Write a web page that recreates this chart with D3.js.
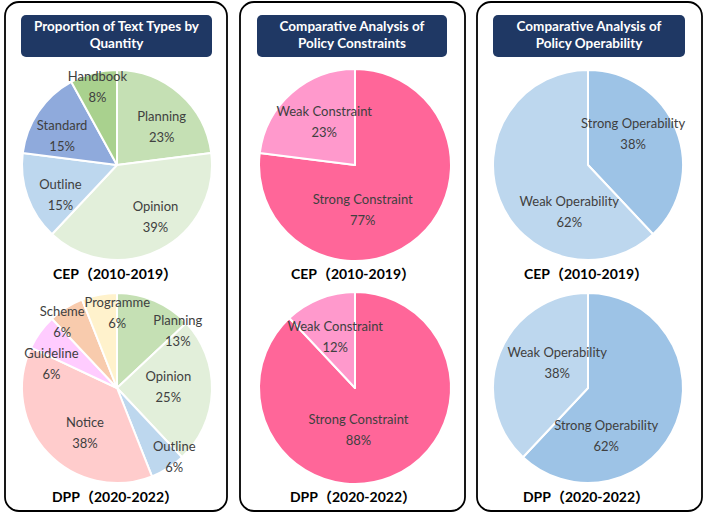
<!DOCTYPE html>
<html>
<head>
<meta charset="utf-8">
<script src="https://cdn.jsdelivr.net/npm/d3@7"></script>
<style>
  html, body { margin: 0; padding: 0; background: #fff; }
  svg { display: block; }
</style>
</head>
<body>
<svg id="chart" width="705" height="514"></svg>
<script>
// ---------------- DATA ----------------
const panelTitles = [
  ["Proportion of Text Types by", "Quantity"],
  ["Comparative Analysis of", "Policy Constraints"],
  ["Comparative Analysis of", "Policy Operability"]
];
const periodLabels = ["CEP（2010-2019）", "DPP（2020-2022）"];

const cepTypeCategories = ["Planning", "Opinion", "Outline", "Standard", "Handbook"];
const cepTypeValues = [23, 39, 15, 15, 8];

const dppTypeCategories = ["Planning", "Opinion", "Outline", "Notice", "Guideline", "Scheme", "Programme"];
const dppTypeValues = [13, 25, 6, 38, 6, 6, 6];

const cepConstraintCategories = ["Strong Constraint", "Weak Constraint"];
const cepConstraintValues = [77, 23];
const dppConstraintCategories = ["Strong Constraint", "Weak Constraint"];
const dppConstraintValues = [88, 12];

const cepOperabilityCategories = ["Strong Operability", "Weak Operability"];
const cepOperabilityValues = [38, 62];
const dppOperabilityCategories = ["Strong Operability", "Weak Operability"];
const dppOperabilityValues = [62, 38];

// ---------------- STYLE / LAYOUT ----------------
const colorScale = d3.scaleOrdinal()
  .domain(["Planning", "Opinion", "Outline", "Standard", "Handbook", "Notice", "Guideline", "Scheme", "Programme",
           "Strong Constraint", "Weak Constraint", "Strong Operability", "Weak Operability"])
  .range(["#c5e0b4", "#e2efda", "#bdd7ee", "#8faadc", "#a9d18e", "#ffcccc", "#ffccff", "#f8cbad", "#fff2cc",
          "#ff6699", "#ff99cc", "#9dc3e6", "#bdd7ee"]);

const panels = [
  { x: 5, w: 222, boxX: 21, boxW: 191, cx: 117 },
  { x: 240, w: 225, boxX: 257, boxW: 190, cx: 355 },
  { x: 477, w: 225, boxX: 493, boxW: 192, cx: 588 }
];
const panelTop = 2, panelH = 509;
const pieCy = [165, 388];
const pieR = [95, 96, 95];

// Excel "best fit" label placement emulation: [angle nudge in degrees, radius fraction]
const labelFit = [
  [[[9, 0.61], [-9, 0.69], [-9, 0.68], [-7, 0.65], [0, 0.83]],
   [[24, 0.87], [-2, 0.54], [-7, 0.95], [-12, 0.59], [-17, 0.73], [-8, 0.89], [11, 0.78]]],
  [[[32, 0.49], [5, 0.54]],
   [[17, 0.45], [0, 0.56]]],
  [[[-12, 0.57], [-47, 0.54]],
   [[48, 0.55], [16, 0.41]]]
];

const charts = [
  [[cepTypeCategories, cepTypeValues], [dppTypeCategories, dppTypeValues]],
  [[cepConstraintCategories, cepConstraintValues], [dppConstraintCategories, dppConstraintValues]],
  [[cepOperabilityCategories, cepOperabilityValues], [dppOperabilityCategories, dppOperabilityValues]]
];

const svg = d3.select("#chart");
const pie = d3.pie().sort(null).value(d => d.value);

panels.forEach((p, pi) => {
  const g = svg.append("g");
  g.append("rect")
    .attr("x", p.x).attr("y", panelTop)
    .attr("width", p.w).attr("height", panelH)
    .attr("rx", 14).attr("ry", 14)
    .attr("fill", "#fff").attr("stroke", "#000").attr("stroke-width", 1.8);

  g.append("rect")
    .attr("x", p.boxX).attr("y", 15)
    .attr("width", p.boxW).attr("height", 42)
    .attr("rx", 5).attr("ry", 5)
    .attr("fill", "#1f3864");

  panelTitles[pi].forEach((line, li) => {
    g.append("text")
      .attr("x", p.boxX + p.boxW / 2).attr("y", 28 + li * 16.5)
      .attr("text-anchor", "middle").attr("dominant-baseline", "middle")
      .attr("fill", "#fff")
      .attr("font-family", "Lato, 'Noto Sans', sans-serif")
      .attr("font-weight", "bold").attr("font-size", 13.5)
      .text(line);
  });

  charts[pi].forEach(([cats, vals], ci) => {
    const r = pieR[pi];
    const cy = pieCy[ci];
    const data = cats.map((c, i) => ({ category: c, value: vals[i] }));
    const arcs = pie(data);
    const arc = d3.arc().innerRadius(0).outerRadius(r);
    const pg = g.append("g").attr("transform", `translate(${p.cx},${cy})`);

    pg.selectAll("path").data(arcs).join("path")
      .attr("d", arc)
      .attr("fill", d => colorScale(d.data.category))
      .attr("stroke", "#fff").attr("stroke-width", 2)
      .attr("stroke-linejoin", "round");

    const total = d3.sum(vals);
    arcs.forEach((d, i) => {
      const [nudge, frac] = labelFit[pi][ci][i];
      const a = (d.startAngle + d.endAngle) / 2 + nudge * Math.PI / 180;
      const la = d3.arc().innerRadius(r * frac).outerRadius(r * frac);
      const [lx, ly] = la.centroid({ startAngle: a, endAngle: a });
      const t = pg.append("text")
        .attr("text-anchor", "middle")
        .attr("fill", "#404040")
        .attr("font-family", "Lato, 'Noto Sans', sans-serif")
        .attr("font-size", 13);
      t.append("tspan").attr("x", lx).attr("y", ly - 10.5).attr("dominant-baseline", "middle")
        .text(d.data.category);
      t.append("tspan").attr("x", lx).attr("y", ly + 10.5).attr("dominant-baseline", "middle")
        .text(Math.round(d.data.value / total * 100) + "%");
    });

    g.append("text")
      .attr("x", p.cx - 2).attr("y", ci === 0 ? 275 : 498)
      .attr("text-anchor", "middle").attr("dominant-baseline", "middle")
      .attr("fill", "#000")
      .attr("font-family", "Lato, 'Noto Sans CJK SC', sans-serif")
      .attr("font-weight", "bold").attr("font-size", 14)
      .text(periodLabels[ci]);
  });
});
</script>
</body>
</html>
